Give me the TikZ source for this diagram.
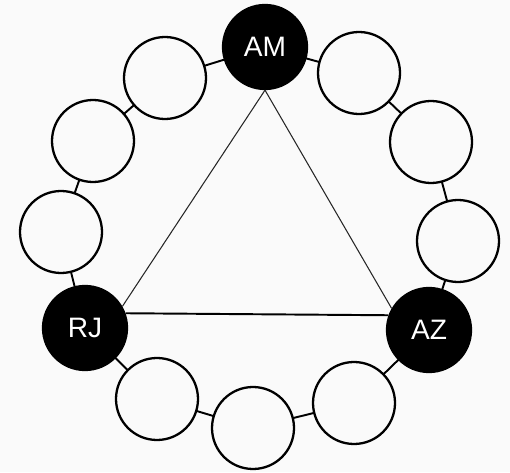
\documentclass[tikz,border=0pt]{standalone}
\usepackage{fontspec}
\setmainfont{Liberation Sans}
\usepackage{tikz}

\begin{document}
\begin{tikzpicture}
    \tikzstyle{member} = [circle, minimum size=1.64cm, inner sep=0pt, draw=black, line width=1.3pt, fill=gray!4]
    \tikzstyle{leader} = [circle, minimum size=1.68cm, inner sep=0pt, draw=black, line width=1.3pt, fill=black, text=white, font=\fontsize{16}{18}\selectfont]
    \tikzstyle{link} = [line width=1.1pt]
    \tikzstyle{tri} = [line width=0.6pt, black!85]

    % Background and size
    \fill [gray!4] (0,0) rectangle (10.2,9.44);
    \useasboundingbox (0,0) rectangle (10.2,9.44);

    % Ring links first, so the circles cover them
    \coordinate (c_am) at (5.30,8.50);
    \coordinate (c_w1) at (3.30,7.88);
    \coordinate (c_w2) at (1.86,6.62);
    \coordinate (c_w3) at (1.22,4.80);
    \coordinate (c_rj) at (1.70,2.88);
    \coordinate (c_w4) at (3.14,1.46);
    \coordinate (c_w5) at (5.06,0.88);
    \coordinate (c_w6) at (7.08,1.38);
    \coordinate (c_az) at (8.58,2.84);
    \coordinate (c_w7) at (9.16,4.62);
    \coordinate (c_w8) at (8.62,6.60);
    \coordinate (c_w9) at (7.18,7.98);

    \draw [link] (c_am) -- (c_w1) -- (c_w2) -- (c_w3) -- (c_rj) -- (c_w4) -- (c_w5)
        -- (c_w6) -- (c_az) -- (c_w7) -- (c_w8) -- (c_w9) -- cycle;

    % Nodes
    \node (h_am) [leader] at (c_am) {AM};
    \node (h_rj) [leader] at (c_rj) {RJ};
    \node (h_az) [leader] at (c_az) {AZ};
    \node (h_w1) [member] at (c_w1) {};
    \node (h_w2) [member] at (c_w2) {};
    \node (h_w3) [member] at (c_w3) {};
    \node (h_w4) [member] at (c_w4) {};
    \node (h_w5) [member] at (c_w5) {};
    \node (h_w6) [member] at (c_w6) {};
    \node (h_w7) [member] at (c_w7) {};
    \node (h_w8) [member] at (c_w8) {};
    \node (h_w9) [member] at (c_w9) {};

    % Triangle
    \draw [tri] (h_am.south) -- (h_rj.30);
    \draw [tri] (h_am.south) -- (h_az.150);
    \draw [link] (h_rj.20) -- (h_az.160);
\end{tikzpicture}
\end{document}
